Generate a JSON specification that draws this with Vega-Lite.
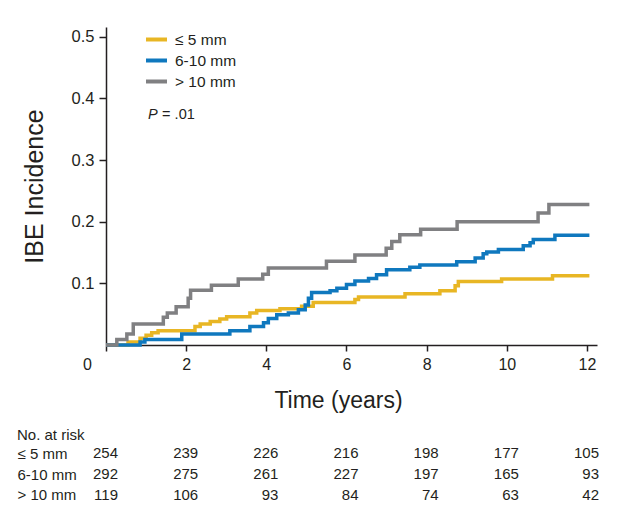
{
  "$schema": "https://vega.github.io/schema/vega-lite/v6.json",
  "padding": {"left": 17, "top": 27, "right": 5, "bottom": 5},
  "background": "white",
  "bounds": "flush",
  "spacing": 98,
  "config": {
    "view": {"stroke": null},
    "font": "Liberation Sans",
    "axis": {"labelFont": "Liberation Sans", "titleFont": "Liberation Sans", "domainColor": "#231f20", "tickColor": "#231f20", "labelColor": "#231f20", "titleColor": "#231f20", "grid": false, "titleFontWeight": "normal"},
    "title": {"color": "#231f20"},
    "text": {"color": "#231f20"}
  },
  "datasets": {
    "curves": [
      {"g": "≤ 5 mm", "t": 0, "v": 0},
      {"g": "≤ 5 mm", "t": 0.55, "v": 0.005},
      {"g": "≤ 5 mm", "t": 0.85, "v": 0.011},
      {"g": "≤ 5 mm", "t": 1.0, "v": 0.016},
      {"g": "≤ 5 mm", "t": 1.14, "v": 0.02},
      {"g": "≤ 5 mm", "t": 1.3, "v": 0.023},
      {"g": "≤ 5 mm", "t": 2.22, "v": 0.03},
      {"g": "≤ 5 mm", "t": 2.35, "v": 0.034},
      {"g": "≤ 5 mm", "t": 2.6, "v": 0.038},
      {"g": "≤ 5 mm", "t": 2.84, "v": 0.042},
      {"g": "≤ 5 mm", "t": 3.01, "v": 0.046},
      {"g": "≤ 5 mm", "t": 3.59, "v": 0.052},
      {"g": "≤ 5 mm", "t": 3.76, "v": 0.056},
      {"g": "≤ 5 mm", "t": 4.34, "v": 0.059},
      {"g": "≤ 5 mm", "t": 4.88, "v": 0.063},
      {"g": "≤ 5 mm", "t": 5.17, "v": 0.069},
      {"g": "≤ 5 mm", "t": 6.21, "v": 0.074},
      {"g": "≤ 5 mm", "t": 6.3, "v": 0.078},
      {"g": "≤ 5 mm", "t": 7.46, "v": 0.083},
      {"g": "≤ 5 mm", "t": 8.33, "v": 0.088},
      {"g": "≤ 5 mm", "t": 8.71, "v": 0.096},
      {"g": "≤ 5 mm", "t": 8.79, "v": 0.103},
      {"g": "≤ 5 mm", "t": 9.87, "v": 0.107},
      {"g": "≤ 5 mm", "t": 11.14, "v": 0.1125},
      {"g": "≤ 5 mm", "t": 12.06, "v": 0.1125},
      {"g": "6-10 mm", "t": 0, "v": 0},
      {"g": "6-10 mm", "t": 0.85, "v": 0.005},
      {"g": "6-10 mm", "t": 0.97, "v": 0.009},
      {"g": "6-10 mm", "t": 1.89, "v": 0.018},
      {"g": "6-10 mm", "t": 3.09, "v": 0.023},
      {"g": "6-10 mm", "t": 3.59, "v": 0.03},
      {"g": "6-10 mm", "t": 3.93, "v": 0.036},
      {"g": "6-10 mm", "t": 4.05, "v": 0.043},
      {"g": "6-10 mm", "t": 4.26, "v": 0.049},
      {"g": "6-10 mm", "t": 4.55, "v": 0.052},
      {"g": "6-10 mm", "t": 4.8, "v": 0.057},
      {"g": "6-10 mm", "t": 4.97, "v": 0.065},
      {"g": "6-10 mm", "t": 5.05, "v": 0.076},
      {"g": "6-10 mm", "t": 5.13, "v": 0.085},
      {"g": "6-10 mm", "t": 5.59, "v": 0.088},
      {"g": "6-10 mm", "t": 5.76, "v": 0.092},
      {"g": "6-10 mm", "t": 6.0, "v": 0.098},
      {"g": "6-10 mm", "t": 6.21, "v": 0.104},
      {"g": "6-10 mm", "t": 6.55, "v": 0.108},
      {"g": "6-10 mm", "t": 6.75, "v": 0.114},
      {"g": "6-10 mm", "t": 7.0, "v": 0.122},
      {"g": "6-10 mm", "t": 7.58, "v": 0.126},
      {"g": "6-10 mm", "t": 7.83, "v": 0.13},
      {"g": "6-10 mm", "t": 8.75, "v": 0.135},
      {"g": "6-10 mm", "t": 9.21, "v": 0.141},
      {"g": "6-10 mm", "t": 9.41, "v": 0.148},
      {"g": "6-10 mm", "t": 9.5, "v": 0.151},
      {"g": "6-10 mm", "t": 9.79, "v": 0.155},
      {"g": "6-10 mm", "t": 10.41, "v": 0.161},
      {"g": "6-10 mm", "t": 10.58, "v": 0.166},
      {"g": "6-10 mm", "t": 10.66, "v": 0.171},
      {"g": "6-10 mm", "t": 11.2, "v": 0.178},
      {"g": "6-10 mm", "t": 12.06, "v": 0.178},
      {"g": "> 10 mm", "t": 0, "v": 0},
      {"g": "> 10 mm", "t": 0.27, "v": 0.009},
      {"g": "> 10 mm", "t": 0.52, "v": 0.018},
      {"g": "> 10 mm", "t": 0.68, "v": 0.034},
      {"g": "> 10 mm", "t": 1.43, "v": 0.045},
      {"g": "> 10 mm", "t": 1.53, "v": 0.052},
      {"g": "> 10 mm", "t": 1.75, "v": 0.062},
      {"g": "> 10 mm", "t": 2.05, "v": 0.076},
      {"g": "> 10 mm", "t": 2.11, "v": 0.089},
      {"g": "> 10 mm", "t": 2.63, "v": 0.097},
      {"g": "> 10 mm", "t": 3.3, "v": 0.107},
      {"g": "> 10 mm", "t": 3.91, "v": 0.115},
      {"g": "> 10 mm", "t": 4.05, "v": 0.125},
      {"g": "> 10 mm", "t": 5.5, "v": 0.136},
      {"g": "> 10 mm", "t": 6.21, "v": 0.146},
      {"g": "> 10 mm", "t": 6.99, "v": 0.157},
      {"g": "> 10 mm", "t": 7.13, "v": 0.168},
      {"g": "> 10 mm", "t": 7.33, "v": 0.179},
      {"g": "> 10 mm", "t": 7.85, "v": 0.188},
      {"g": "> 10 mm", "t": 8.76, "v": 0.2},
      {"g": "> 10 mm", "t": 10.78, "v": 0.214},
      {"g": "> 10 mm", "t": 11.05, "v": 0.228},
      {"g": "> 10 mm", "t": 12.06, "v": 0.228}
    ],
    "ptext": [
      {"label": "P", "t": 1.05, "v": 0.373},
      {"label": "= .01", "t": 1.4, "v": 0.373}
    ],
    "risk": [
      {"g": "≤ 5 mm", "t": 0, "n": 254}, {"g": "≤ 5 mm", "t": 2, "n": 239}, {"g": "≤ 5 mm", "t": 4, "n": 226}, {"g": "≤ 5 mm", "t": 6, "n": 216}, {"g": "≤ 5 mm", "t": 8, "n": 198}, {"g": "≤ 5 mm", "t": 10, "n": 177}, {"g": "≤ 5 mm", "t": 12, "n": 105},
      {"g": "6-10 mm", "t": 0, "n": 292}, {"g": "6-10 mm", "t": 2, "n": 275}, {"g": "6-10 mm", "t": 4, "n": 261}, {"g": "6-10 mm", "t": 6, "n": 227}, {"g": "6-10 mm", "t": 8, "n": 197}, {"g": "6-10 mm", "t": 10, "n": 165}, {"g": "6-10 mm", "t": 12, "n": 93},
      {"g": "> 10 mm", "t": 0, "n": 119}, {"g": "> 10 mm", "t": 2, "n": 106}, {"g": "> 10 mm", "t": 4, "n": 93}, {"g": "> 10 mm", "t": 6, "n": 84}, {"g": "> 10 mm", "t": 8, "n": 74}, {"g": "> 10 mm", "t": 10, "n": 63}, {"g": "> 10 mm", "t": 12, "n": 42}
    ]
  },
  "vconcat": [
    {
      "width": 491,
      "height": 318,
      "layer": [
        {
          "data": {"name": "curves"},
          "mark": {"type": "line", "interpolate": "step-after", "strokeWidth": 3.5},
          "encoding": {
            "x": {"field": "t", "type": "quantitative", "scale": {"domain": [0, 12.25], "nice": false},
              "axis": {"values": [0, 2, 4, 6, 8, 10, 12], "title": "Time (years)", "titleFontSize": 23, "titlePadding": 17, "titleX": 232,
                "labelFontSize": 16, "tickSize": 6, "labelPadding": 5, "domainWidth": 1.5, "tickWidth": 1.5, "labelFlush": false, "labelOverlap": false,
                "labelOffset": {"condition": {"test": "datum.value === 0", "value": -19}, "value": 0}}},
            "y": {"field": "v", "type": "quantitative", "scale": {"domain": [0, 0.516], "nice": false},
              "axis": {"values": [0.1, 0.2, 0.3, 0.4, 0.5], "format": ".1f", "title": "IBE Incidence", "titleFontSize": 25, "titlePadding": 24,
                "labelFontSize": 16.5, "tickSize": 7, "labelPadding": 5, "domainWidth": 1.5, "tickWidth": 1.5, "labelFlush": false}},
            "color": {"field": "g", "type": "nominal",
              "scale": {"domain": ["≤ 5 mm", "6-10 mm", "> 10 mm"], "range": ["#E8B624", "#0F78BE", "#808082"]},
              "legend": {"title": null, "orient": "none", "legendX": 38, "legendY": 0, "symbolType": "stroke", "symbolStrokeWidth": 4, "symbolSize": 441,
                "labelFontSize": 15.5, "labelOffset": 6, "rowPadding": 0, "padding": 0, "labelColor": "#231f20", "labelFont": "Liberation Sans"}}
          }
        },
        {
          "data": {"name": "ptext"},
          "transform": [{"filter": "datum.label === 'P'"}],
          "mark": {"type": "text", "align": "left", "baseline": "middle", "fontSize": 14.5, "fontStyle": "italic"},
          "encoding": {
            "x": {"field": "t", "type": "quantitative"},
            "y": {"field": "v", "type": "quantitative"},
            "text": {"field": "label"}
          }
        },
        {
          "data": {"name": "ptext"},
          "transform": [{"filter": "datum.label !== 'P'"}],
          "mark": {"type": "text", "align": "left", "baseline": "middle", "fontSize": 14.5},
          "encoding": {
            "x": {"field": "t", "type": "quantitative"},
            "y": {"field": "v", "type": "quantitative"},
            "text": {"field": "label"}
          }
        }
      ]
    },
    {
      "width": 491,
      "height": 62,
      "data": {"name": "risk"},
      "title": {"text": "No. at risk", "anchor": "start", "frame": "bounds", "fontSize": 15, "fontWeight": "normal", "offset": -12, "baseline": "alphabetic", "font": "Liberation Sans"},
      "mark": {"type": "text", "align": "right", "baseline": "middle", "dx": 12, "fontSize": 15},
      "encoding": {
        "x": {"field": "t", "type": "quantitative", "scale": {"domain": [0, 12.25], "nice": false}, "axis": null},
        "y": {"field": "g", "type": "nominal", "scale": {"domain": ["≤ 5 mm", "6-10 mm", "> 10 mm"], "paddingInner": 0, "paddingOuter": 0},
          "axis": {"title": null, "domain": false, "ticks": false, "tickSize": 0, "labelAlign": "left", "labelPadding": 89, "labelFontSize": 15}},
        "text": {"field": "n", "type": "quantitative"}
      }
    }
  ]
}
